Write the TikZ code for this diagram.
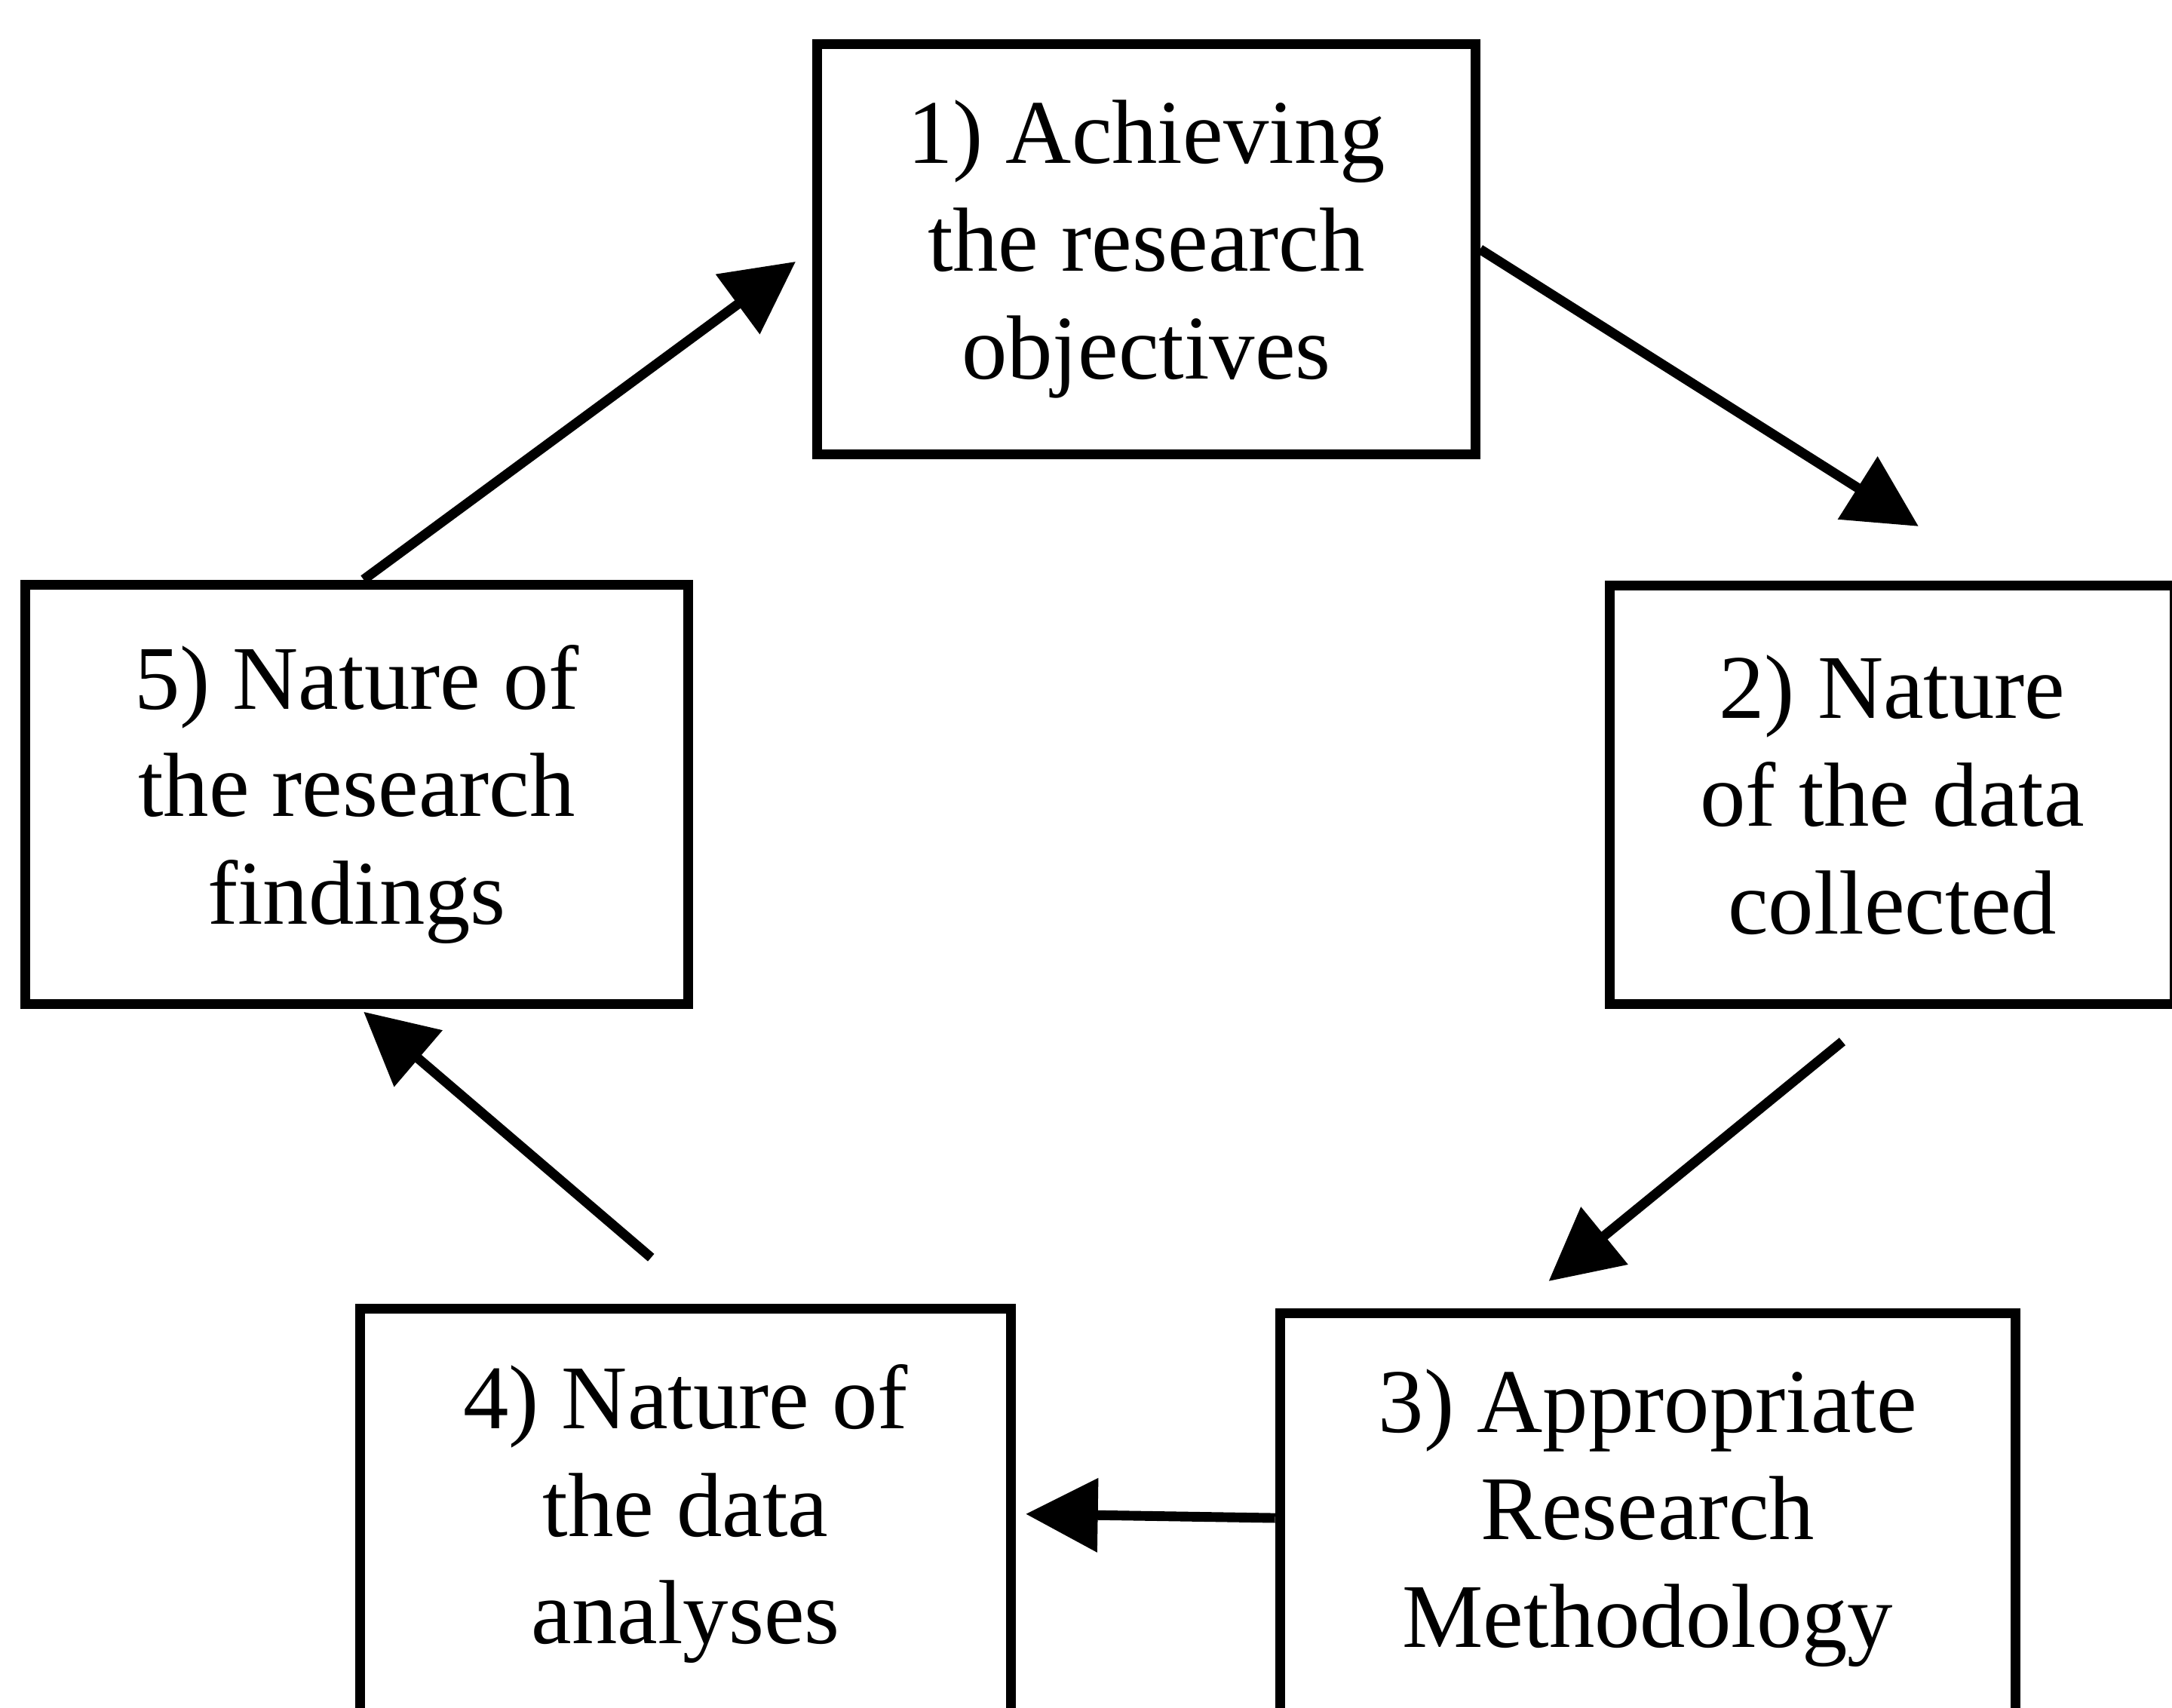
\documentclass[tikz,border=0pt]{standalone}
\usepackage{fontspec}
\setmainfont{Liberation Serif}
\usetikzlibrary{arrows.meta}
\tikzset{
  stage/.style={draw,line width=2pt,align=center,inner sep=0pt,
    font=\fontsize{18.7}{22.1}\selectfont},
  flow/.style={line width=2pt,-{Triangle[length=5.2mm,width=5.2mm]}}
}
\begin{document}
\begin{tikzpicture}
\useasboundingbox (0,0) rectangle (15.68,12.33);
\clip (0,0) rectangle (15.68,12.33);
% the five stages, round the cycle
\node[stage,minimum width=4.75cm,minimum height=2.96cm] (obj) at (8.275,10.53) {1) Achieving\\the research\\objectives};
\node[stage,minimum width=4.08cm,minimum height=3.02cm] (data) at (13.66,6.59) {2) Nature\\of the data\\collected};
\node[stage,minimum width=5.31cm,minimum height=2.96cm] (method) at (11.895,1.37) {3) Appropriate\\Research\\Methodology};
\node[stage,minimum width=4.70cm,minimum height=2.96cm] (analyses) at (4.95,1.40) {4) Nature of\\the data\\analyses};
\node[stage,minimum width=4.79cm,minimum height=3.03cm] (findings) at (2.575,6.595) {5) Nature of\\the research\\findings};
% free ends of the arrows
\coordinate (objtip) at (13.85,8.53);
\coordinate (datatail) at (13.30,4.81);
\coordinate (datatip) at (11.18,3.08);
\coordinate (anatail) at (4.70,3.25);
\draw[flow] (obj.east) -- (objtip);
\draw[flow] (datatail) -- (datatip);
\draw[flow,shorten >=0.7mm] (method.west) -- (analyses.east);
\draw[flow] (anatail) -- ([xshift=0.5mm,yshift=-0.2mm]findings.south);
\draw[flow,shorten >=1.5mm] ([xshift=0.5mm]findings.north) -- (obj.west);
\end{tikzpicture}
\end{document}
